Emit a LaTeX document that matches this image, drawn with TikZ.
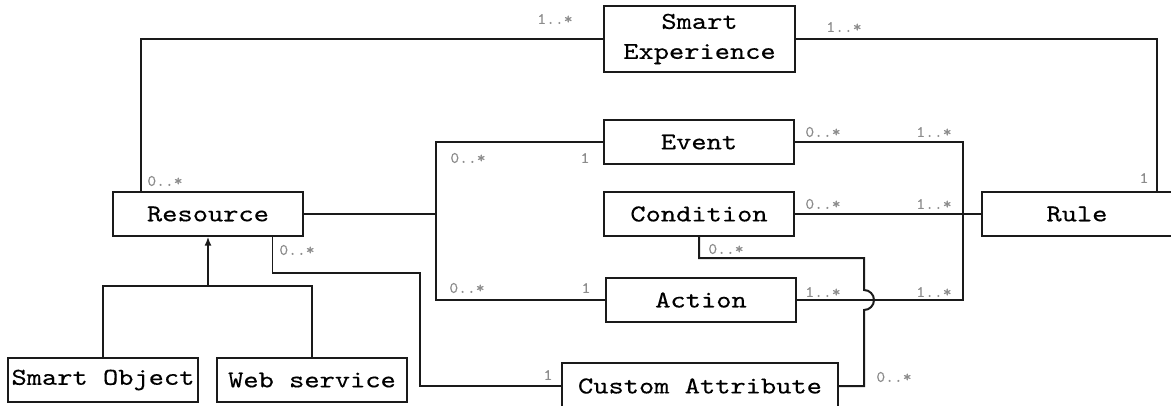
\documentclass[tikz,border=0pt]{standalone}
\usepackage{fontspec}
\newfontfamily\bxf[FakeStretch=1.2, FakeBold=0.4]{lmmono10-regular.otf}
\newfontfamily\mlf[FakeStretch=1.05, FakeBold=0.2]{lmmono10-regular.otf}
\usetikzlibrary{arrows.meta}
\definecolor{lbl}{HTML}{8C8C8C}
\definecolor{ink}{HTML}{1A1A1A}
\tikzset{
  cls/.style={draw=ink, line width=1.3pt, inner sep=0pt, minimum width=190pt, minimum height=44pt,
    font=\bxf\fontsize{24.2}{30}\selectfont, text=black, align=center},
  conn/.style={draw=ink, line width=2pt},
  thinconn/.style={draw=ink, line width=1.2pt},
  mult/.style={font=\mlf\fontsize{16}{18}\selectfont, text=lbl, inner sep=0pt}
}
\begin{document}
\begin{tikzpicture}[x=1pt,y=-1pt]
\useasboundingbox (0,0) rectangle (1171,405);
% classes
\node[cls, minimum width=191pt, minimum height=66pt] (se) at (699.5,39) {Smart\\Experience};
\node[cls] (ev) at (699,142) {Event};
\node[cls] (cond) at (699,214) {Condition};
\node[cls] (act) at (701,300) {Action};
\node[cls] (rule) at (1077,214) {Rule};
\node[cls] (res) at (208,214) {Resource};
\node[cls] (so) at (103,380) {Smart Object};
\node[cls] (ws) at (312,380) {Web service};
\node[cls, minimum width=276pt, minimum height=46pt] (ca) at (700,386) {Custom Attribute};
% helper coordinates
\coordinate (jl) at (436,214);
\coordinate (jr) at (963,214);
\coordinate (cj) at (864,258);
\coordinate (rc) at (420,273);
\coordinate (ih) at (208,286);
% connectors
\draw[conn] ([xshift=29pt]res.north west) |- (se.west);
\draw[conn] (se.east) -| ([xshift=-16pt]rule.north east);
\draw[conn] (res.east) -- (jl);
\draw[conn] (ev.west) -| (jl) |- (act.west);
\draw[conn] (ev.east) -| (jr) |- (act.east);
\draw[conn] (cond.east) -- (rule.west);
\draw[conn] (cond.south) |- (cj) -- ++(0,32) arc[start angle=90, end angle=-90, radius=10pt] |- (ca.east);
\draw[thinconn] ([xshift=-31pt]res.south east) |- (rc) |- (ca.west);
\draw[conn] (so.north) |- (ih) -| (ws.north);
\draw[conn, -{Latex[length=9pt, width=7pt]}] (ih) -- (res.south);
% multiplicities
\node[mult] (m1) at (555,19) {1..*};
\node[mult] (m2) at (844,27) {1..*};
\node[mult] (m3) at (1144,178) {1};
\node[mult] (m4) at (165,181) {0..*};
\node[mult] (m5) at (297,250) {0..*};
\node[mult] (m6) at (468,158) {0..*};
\node[mult] (m7) at (585,158) {1};
\node[mult] (m8) at (467,288) {0..*};
\node[mult] (m9) at (586,288) {1};
\node[mult] (m10) at (823,132) {0..*};
\node[mult] (m11) at (934,132) {1..*};
\node[mult] (m12) at (823,204) {0..*};
\node[mult] (m13) at (934,204) {1..*};
\node[mult] (m14) at (823,292) {1..*};
\node[mult] (m15) at (934,292) {1..*};
\node[mult] (m16) at (726,249) {0..*};
\node[mult] (m17) at (894,377) {0..*};
\node[mult] (m18) at (548,375) {1};
\end{tikzpicture}
\end{document}
